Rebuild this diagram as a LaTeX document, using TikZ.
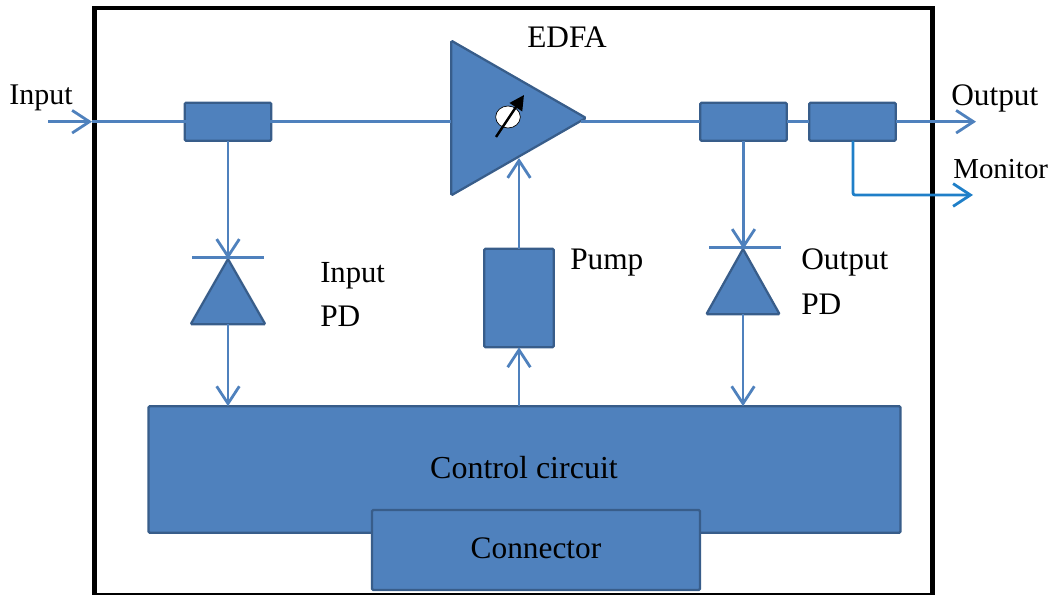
\documentclass[tikz,border=0pt]{standalone}
\usepackage{fontspec}
\setmainfont{Liberation Serif}
\usetikzlibrary{arrows.meta,shapes.geometric}
\definecolor{boxfill}{HTML}{4F81BD}
\definecolor{boxline}{HTML}{385D8A}
\definecolor{monline}{HTML}{1F7FC8}
\tikzset{
  block/.style={draw=boxline, line width=1.7pt, fill=boxfill, rounded corners=1pt, inner sep=0pt, outer sep=0pt},
  tap/.style={block, minimum width=65pt, minimum height=28.5pt},
  wire/.style={draw=boxfill, line width=2.1pt, >={Straight Barb[length=13pt,width=17pt]}},
  monwire/.style={wire, draw=monline, rounded corners=1.5pt},
  tri/.style={block, isosceles triangle, isosceles triangle stretches, anchor=apex},
  label/.style={font=\fontsize{23.5}{28}\selectfont, text=black, inner sep=0pt, anchor=base west}
}
\begin{document}
\begin{tikzpicture}[x=0.75pt, y=-0.75pt]
  \useasboundingbox (0,0) rectangle (1056,595);
  \draw[black, line width=3.6pt] (94.7,595.5) -- (94.7,8) -- (932.5,8) -- (932.5,595.5) -- cycle;
  \node[tap] (tapin) at (228,121.7) {};
  \node[tap] (tapout) at (743.5,121.7) {};
  \node[tap] (tapmon) at (852.5,121.7) {};
  \node[tri, minimum height=101pt, minimum width=116pt] (edfa) at (586,118) {};
  \node[tri, shape border rotate=90, minimum height=49pt, minimum width=56pt] (pdin) at (228,259) {};
  \node[tri, shape border rotate=90, minimum height=49pt, minimum width=55pt] (pdout) at (743,249) {};
  \node[block, minimum width=52pt, minimum height=74pt] (pump) at (519,298) {};
  \node[block, minimum width=564pt, minimum height=95pt] (ctrl) at (524.5,469.5) {};
  \node[block, minimum width=246pt, minimum height=60pt] (conn) at (536,550) {};
  \coordinate (in) at (48,121.7);
  \coordinate (inedge) at (92,121.7);
  \coordinate (edfain) at (451,121.7);
  \coordinate (edfaout) at (581,121.7);
  \coordinate (edfapump) at (519,158);
  \coordinate (out) at (976,121.7);
  \coordinate (mon) at (973,195);
  \coordinate (moncorner) at (853,195);
  \coordinate (gainfrom) at (496,137);
  \coordinate (gainto) at (524,95);
  % main line
  \draw[wire,->] (in) -- (inedge);
  \draw[wire] (inedge) -- (tapin.west) -- (tapin.east) -- (edfain);
  \draw[wire] (edfaout) -- (tapout.west);
  \draw[wire] (tapout.east) -- (tapmon.west);
  \draw[wire,->] (tapmon.east) -- (out);
  \draw[monwire,->] (tapmon.south -| moncorner) -- (moncorner) -- (mon);
  % photodiodes
  \draw[wire,->] (tapin.south) -- (pdin.apex);
  \draw[wire] ([xshift=-27pt,yshift=1pt]pdin.apex) -- ([xshift=27pt,yshift=1pt]pdin.apex);
  \draw[wire,->] (pdin.south) -- (pdin.south |- ctrl.north);
  \draw[wire,->] (tapout.south) -- (tapout.south |- pdout.apex);
  \draw[wire] ([xshift=-25.5pt,yshift=1pt]pdout.apex) -- ([xshift=28.5pt,yshift=1pt]pdout.apex);
  \draw[wire,->] (pdout.south) -- (pdout.south |- ctrl.north);
  % pump
  \draw[wire,->] (pump.south |- ctrl.north) -- (pump.south);
  \draw[wire,->] (pump.north) -- (edfapump);
  % gain symbol
  \node[draw=black, fill=white, ellipse, line width=0.5pt, inner sep=0pt, minimum width=18.5pt, minimum height=16.5pt] (gain) at (508,117) {};
  \draw[black, line width=1.8pt, -{Triangle[length=11pt,width=11pt]}] (gainfrom) -- (gainto);
  \node[label, font=\fontsize{22.5}{28}\selectfont] (tin) at (9,105) {Input};
  \node[label] (tout) at (951,106) {Output};
  \node[label, font=\fontsize{21.7}{28}\selectfont] (tmon) at (953,179) {Monitor};
  \node[label] (tedfa) at (527,48) {EDFA};
  \node[label, font=\fontsize{23}{28}\selectfont] (tpdin) at (320,282) {Input};
  \node[label] (tpdinb) at (320,326) {PD};
  \node[label] (tpump) at (570,270) {Pump};
  \node[label] (tpdout) at (801,269) {Output};
  \node[label] (tpdoutb) at (801,314) {PD};
  \node[label, anchor=base, font=\fontsize{24}{28}\selectfont] (tctrl) at (524,478) {Control circuit};
  \node[label, anchor=base] (tconn) at (536,558) {Connector};
\end{tikzpicture}
\end{document}
